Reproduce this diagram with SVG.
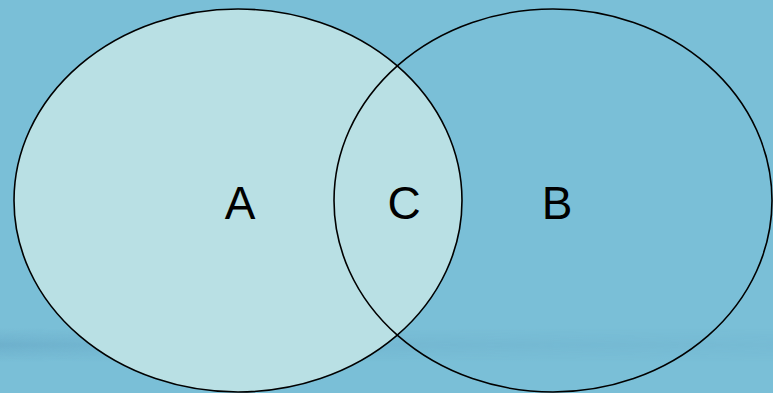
<svg xmlns="http://www.w3.org/2000/svg" width="773" height="393" viewBox="0 0 773 393">
<defs>
<linearGradient id="band" x1="0" y1="0" x2="0" y2="1">
<stop offset="0" stop-color="#5f9fc0" stop-opacity="0"/>
<stop offset="0.5" stop-color="#5f9fc0" stop-opacity="0.45"/>
<stop offset="1" stop-color="#5f9fc0" stop-opacity="0"/>
</linearGradient>
<linearGradient id="bandfade" x1="0" y1="0" x2="1" y2="0">
<stop offset="0" stop-color="#fff" stop-opacity="1"/>
<stop offset="0.15" stop-color="#fff" stop-opacity="0.6"/>
<stop offset="1" stop-color="#fff" stop-opacity="0.25"/>
</linearGradient>
<mask id="m"><rect x="0" y="0" width="773" height="393" fill="url(#bandfade)"/></mask>
</defs>
<style>
.set{stroke:#000;stroke-width:1.6}
.lbl{font-family:"Liberation Sans",Arial,sans-serif;font-size:46px;fill:#000;text-anchor:middle}
</style>
<rect x="0" y="0" width="773" height="393" fill="#7abfd7"/>
<rect x="0" y="328" width="773" height="34" fill="url(#band)" mask="url(#m)"/>
<g id="setA"><ellipse class="set" cx="238" cy="200.5" rx="224" ry="191.5" fill="#b9e0e4"/></g>
<g id="setB"><ellipse class="set" cx="553" cy="200.5" rx="219" ry="191.5" fill="none"/></g>
<g id="labels">
<text class="lbl" x="240" y="219">A</text>
<text class="lbl" x="404" y="219">C</text>
<text class="lbl" x="557" y="219">B</text>
</g>
</svg>
